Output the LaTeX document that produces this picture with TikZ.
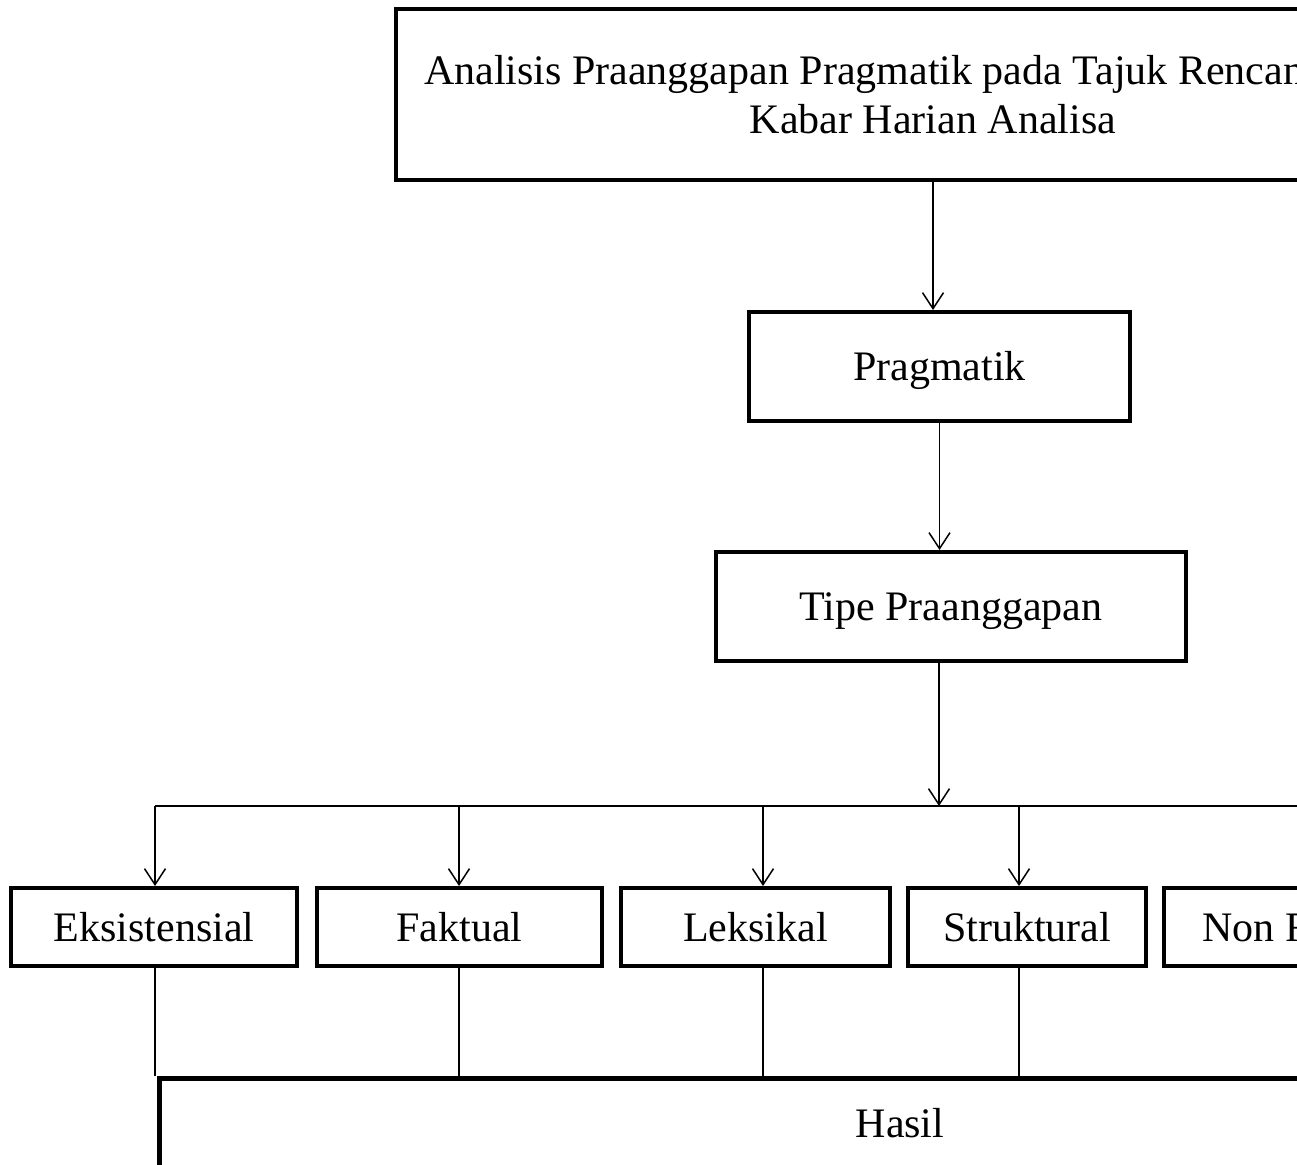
\documentclass[tikz,border=0pt]{standalone}
\usepackage{fontspec}
\setmainfont{Liberation Serif}
\usetikzlibrary{arrows.meta,calc}
\begin{document}
\begin{tikzpicture}[x=1pt,y=-1pt,
  box/.style={draw=black,line width=4pt,rectangle,inner sep=0pt,align=center,
    font=\fontsize{42}{49}\selectfont},
  one/.style={text height=28pt,text depth=0pt},
  conn/.style={draw=black,line width=1.5pt},
  arr/.style={conn,-{Straight Barb[length=16pt,width=21pt,line width=1.5pt]}}]
\useasboundingbox (0,0) rectangle (1297,1164);
\clip (0,0) rectangle (1297,1164);
\fill[white] (0,0) rectangle (1297,1164);
% boxes
\node[box,minimum width=1074pt,minimum height=171pt] (top) at (933,94.5)
  {Analisis Praanggapan Pragmatik pada Tajuk Rencana Surat\hspace*{20pt}\\Kabar Harian Analisa};
\node[box,one,minimum width=381pt,minimum height=109pt] (prag) at (939.5,366.5) {Pragmatik};
\node[box,one,minimum width=470pt,minimum height=109pt] (tipe) at (951,606.5) {Tipe Praanggapan};
\node[box,one,minimum width=286pt,minimum height=78pt] (eks) at (154,927) {Eksistensial};
\node[box,one,minimum width=285pt,minimum height=78pt] (fak) at (459.5,927) {Faktual};
\node[box,one,minimum width=269pt,minimum height=78pt] (leks) at (755.5,927) {Leksikal};
\node[box,one,minimum width=238pt,minimum height=78pt] (str) at (1027,927) {Struktural};
\node[box,one,minimum width=287pt,minimum height=78pt] (non) at (1307,927) {Non Faktual};
\node[box,one,line width=5pt,minimum width=1481pt,minimum height=90pt] (hasil) at (900,1123.5) {Hasil};
% bus coordinates
\coordinate (bt) at (939,806);
\coordinate (b1) at (155,806);
\coordinate (b2) at (459,806);
\coordinate (b3) at (763,806);
\coordinate (b4) at (1019,806);
\coordinate (b5) at (1310,806);
% connectors
\draw[arr] (top.south) -- (top.south |- prag.north);
\draw[arr] (prag.south) -- (prag.south |- tipe.north);
\draw[arr] (bt |- tipe.south) -- (bt);
\draw[conn] (b1) -- (b5);
\draw[arr] (b1) -- (b1 |- eks.north);
\draw[arr] (b2) -- (b2 |- fak.north);
\draw[arr] (b3) -- (b3 |- leks.north);
\draw[arr] (b4) -- (b4 |- str.north);
\draw[conn] (b1 |- eks.south) -- (b1 |- hasil.north);
\draw[conn] (b2 |- fak.south) -- (b2 |- hasil.north);
\draw[conn] (b3 |- leks.south) -- (b3 |- hasil.north);
\draw[conn] (b4 |- str.south) -- (b4 |- hasil.north);
\end{tikzpicture}
\end{document}
